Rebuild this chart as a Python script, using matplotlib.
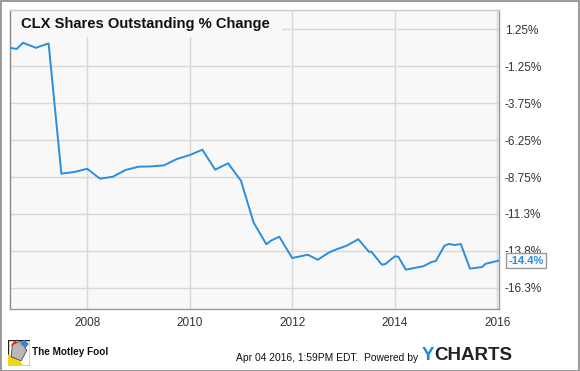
import matplotlib
matplotlib.use("Agg")
import matplotlib.pyplot as plt
from matplotlib.patches import Rectangle, Polygon
import datetime as dt

plt.rcParams['font.family'] = ['Liberation Sans', 'DejaVu Sans']

dates = ["2006-06-29", "2006-08-15", "2006-09-30", "2006-12-31", "2007-03-31",
         "2007-06-30", "2007-09-30", "2007-12-31", "2008-03-31", "2008-06-30",
         "2008-09-30", "2008-12-31", "2009-03-31", "2009-06-30", "2009-09-30",
         "2009-12-31", "2010-03-31", "2010-06-30", "2010-09-30", "2010-12-31",
         "2011-03-31", "2011-06-30", "2011-08-01", "2011-09-30", "2011-12-31",
         "2012-04-20", "2012-07-01", "2012-09-15", "2012-11-12", "2013-01-22",
         "2013-04-15", "2013-07-01", "2013-07-15", "2013-09-30", "2013-10-25",
         "2013-12-31", "2014-01-25", "2014-03-20", "2014-07-22", "2014-09-20",
         "2014-10-20", "2014-12-20", "2015-01-20", "2015-03-05", "2015-04-15",
         "2015-06-20", "2015-09-15", "2015-10-10", "2016-01-10"]
values = [0.0, -0.08, 0.34, 0.0, 0.30,
          -8.52, -8.41, -8.19, -8.86, -8.73,
          -8.27, -8.05, -8.03, -7.96, -7.53,
          -7.26, -6.90, -8.25, -7.82, -9.00,
          -11.83, -13.30, -13.06, -12.79, -14.23,
          -14.01, -14.35, -13.87, -13.64, -13.40,
          -12.96, -13.82, -13.78, -14.68, -14.64,
          -14.12, -14.14, -15.02, -14.79, -14.50,
          -14.43, -13.40, -13.28, -13.35, -13.28,
          -14.95, -14.84, -14.62, -14.41]
y_ticks = [1.25, -1.25, -3.75, -6.25, -8.75, -11.25, -13.75, -16.25]
y_tick_labels = ["1.25%", "-1.25%", "-3.75%", "-6.25%", "-8.75%", "-11.3%", "-13.8%", "-16.3%"]
x_tick_years = [2008, 2010, 2012, 2014, 2016]
title = "CLX Shares Outstanding % Change"
last_label = "-14.4%"

LINE = "#2a8ee0"
BG = "#f8f8f8"
GRID = "#d8d8d8"

fig = plt.figure(figsize=(5.8, 3.71), dpi=100)
fig.patch.set_facecolor("white")
W, H = 580, 371
ax = fig.add_axes([10 / W, 1 - 308.8 / H, (499.3 - 10) / W, (308.8 - 10) / H])
ax.set_facecolor(BG)

d = [dt.datetime.strptime(s, "%Y-%m-%d") for s in dates]
ax.plot(d, values, color=LINE, lw=1.4, zorder=4, solid_joinstyle="round")

ax.set_xlim(dt.datetime(2006, 6, 29), dt.datetime(2016, 1, 15))
ax.set_ylim(-17.67, 2.56)

ax.set_yticks(y_ticks)
ax.set_yticklabels(y_tick_labels)
ax.yaxis.tick_right()
ax.set_xticks([dt.datetime(y, 1, 1) for y in x_tick_years])
ax.set_xticklabels([str(y) for y in x_tick_years])
ax.tick_params(axis="both", length=0, labelsize=8.5, colors="#333333")
ax.tick_params(axis="y", pad=4)
ax.tick_params(axis="x", pad=6)
ax.grid(True, color=GRID, lw=1, zorder=1)
ax.set_axisbelow(True)

ax.spines["left"].set_color("#888888")
ax.spines["right"].set_color("#999999")
ax.spines["top"].set_color("#cccccc")
ax.spines["bottom"].set_color("#999999")
for s in ax.spines.values():
    s.set_linewidth(1)

# title box covering grid
ax.add_patch(Rectangle((0, 1 - 27 / 298.8), (282 - 10) / 489.3, 27 / 298.8,
                       transform=ax.transAxes, facecolor=BG, edgecolor="none", zorder=2))
fig.text(21 / W, 1 - 24 / H, title, fontsize=10.6, fontweight="bold",
         color="#111111", va="center", ha="left")

# last value label
ly = values[-1]
ax.annotate(last_label, xy=(1.0, ly), xycoords=("axes fraction", "data"),
            xytext=(6.5, 0), textcoords="offset points", va="center", ha="left",
            fontsize=8, fontweight="bold", color=LINE, zorder=6,
            bbox=dict(boxstyle="square,pad=0.2", fc="#f8f8f8", ec="#999999", lw=1),
            annotation_clip=False)

# outer border
fig.add_artist(Rectangle((0.5 / W, 0.5 / H), 1 - 1.5 / W, 1 - 1.5 / H,
                         transform=fig.transFigure, fill=False, ec="#888888", lw=1.2))

# Motley Fool logo (simplified)
logo_ax = fig.add_axes([8 / W, 1 - 366 / H, 22 / W, 26 / H])
logo_ax.set_xlim(0, 1); logo_ax.set_ylim(0, 1)
logo_ax.set_xticks([]); logo_ax.set_yticks([])
logo_ax.add_patch(Rectangle((0, 0), 1, 1, fc="white", ec="#222222", lw=1))
logo_ax.add_patch(Polygon([[0, 0], [0, 0.45], [0.45, 0.3], [0.7, 0]], fc="#f2d21b", ec="none"))
logo_ax.add_patch(Polygon([[0.15, 0.35], [0.2, 0.85], [0.6, 0.95], [0.85, 0.6], [0.6, 0.2]],
                          fc="#b8b8b8", ec="#444444", lw=0.6))
logo_ax.add_patch(Polygon([[0.55, 0.85], [0.75, 1.0], [0.95, 0.85], [0.8, 0.7]], fc="#3a7fd0", ec="none"))
logo_ax.add_patch(Polygon([[0.1, 0.75], [0.3, 1.0], [0.45, 0.9]], fc="#d33", ec="none"))
for s in logo_ax.spines.values():
    s.set_visible(False)

fig.text(32 / W, 1 - 352 / H, "The Motley Fool", fontsize=7.2, fontweight="bold",
         color="#111111", va="center", ha="left")
fig.text(418 / W, 1 - 358 / H, "Apr 04 2016, 1:59PM EDT.  Powered by", fontsize=7.4,
         color="#111111", va="center", ha="right")
fig.text(422 / W, 1 - 355 / H, "Y", fontsize=13.5, fontweight="bold",
         color="#1a8ce0", va="center", ha="left")
fig.text(434 / W, 1 - 355 / H, "CHARTS", fontsize=13.5, fontweight="bold",
         color="#222222", va="center", ha="left")

fig.savefig("out.png", dpi=100, facecolor="white")
